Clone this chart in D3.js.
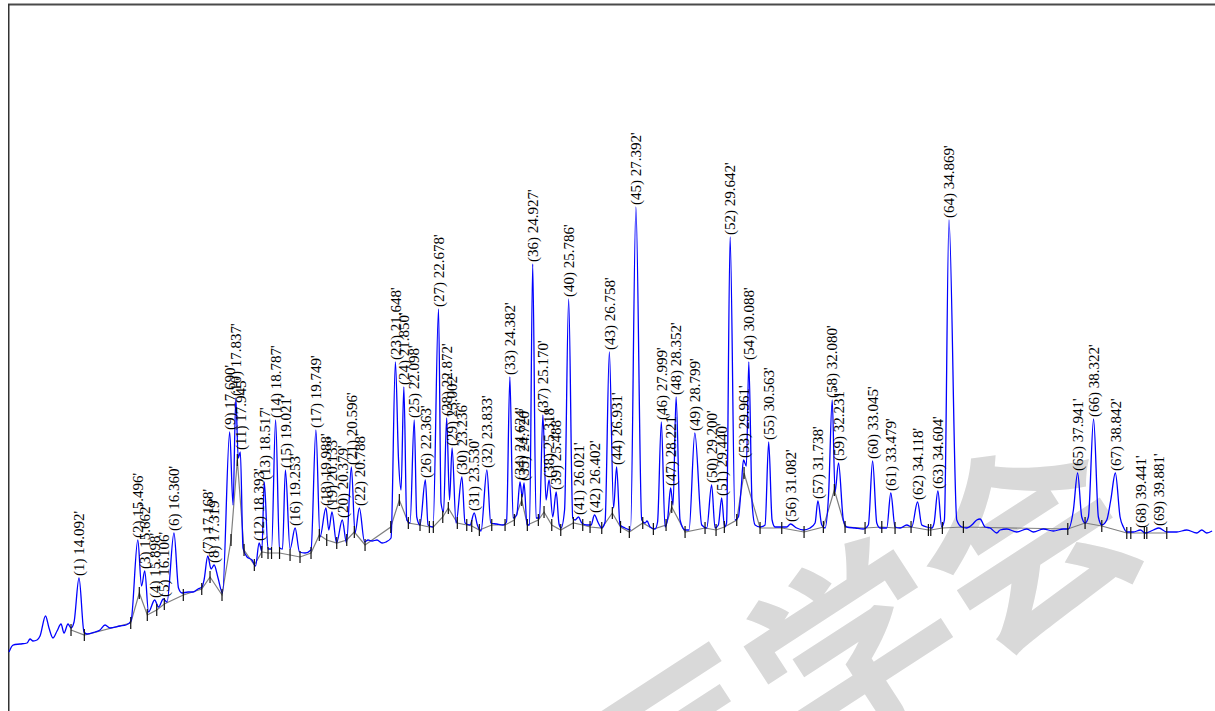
<!DOCTYPE html>
<html>
<head>
<meta charset="utf-8">
<script src="https://cdn.jsdelivr.net/npm/d3@7/dist/d3.min.js"></script>
<style>
  html, body { margin: 0; padding: 0; background: #fff; }
  svg { display: block; }
</style>
</head>
<body>
<svg id="chart" width="1215" height="711"></svg>
<script>
// Retention times (min) of the integrated peaks, in elution order
const retentionTimes = [
  14.092, 15.496, 15.662, 15.898, 16.106, 16.360, 17.168, 17.319, 17.690, 17.837,
  17.945, 18.393, 18.517, 18.787, 19.021, 19.253, 19.749, 19.988, 20.133, 20.379,
  20.596, 20.788, 21.648, 21.850, 22.098, 22.363, 22.678, 22.872, 23.002, 23.236,
  23.530, 23.833, 24.382, 24.624, 24.720, 24.927, 25.170, 25.318, 25.488, 25.786,
  26.021, 26.402, 26.758, 26.931, 27.392, 27.999, 28.221, 28.352, 28.799, 29.200,
  29.440, 29.642, 29.961, 30.088, 30.563, 31.082, 31.738, 32.080, 32.231, 33.045,
  33.479, 34.118, 34.604, 34.869, 37.941, 38.322, 38.842, 39.441, 39.881
];

// Detector signal at each peak apex (mV)
const peakHeights = [
  13.3, 17.1, 14.0, 11.1, 11.2, 17.8, 15.5, 14.6, 27.9, 31.3,
  25.9, 16.8, 22.9, 29.1, 24.1, 18.3, 28.1, 20.3, 19.9, 19.1,
  24.4, 20.3, 34.9, 32.4, 29.1, 23.1, 40.2, 29.3, 26.3, 23.4,
  19.8, 24.1, 33.4, 22.9, 22.8, 44.7, 29.6, 23.1, 21.9, 41.2,
  19.4, 19.6, 35.9, 24.4, 50.4, 28.9, 22.3, 31.4, 27.8, 22.6,
  21.3, 47.4, 25.1, 34.9, 26.9, 18.7, 21.0, 31.1, 24.8, 25.0,
  21.8, 20.9, 22.0, 49.1, 23.8, 29.2, 23.8, 18.1, 18.3
];

// Signal between the apexes: baseline, valleys and peak feet [time min, mV]
const baselineTrace = [
  [12.420, 5.9], [12.516, 6.6], [12.683, 6.7], [12.850, 6.8], [12.922, 7.2], [12.993, 7.0],
  [13.089, 7.1], [13.161, 7.5], [13.292, 9.5], [13.375, 8.3], [13.471, 7.3], [13.567, 8.0],
  [13.662, 8.7], [13.734, 7.8], [13.829, 8.7], [13.901, 8.3], [13.973, 8.9], [14.211, 7.9],
  [14.283, 7.7], [14.474, 7.9], [14.594, 8.1], [14.713, 8.6], [14.832, 8.3], [15.071, 8.5],
  [15.215, 8.6], [15.334, 9.0], [15.585, 12.5], [15.752, 9.9], [15.991, 10.4], [16.194, 10.9],
  [16.468, 12.3], [16.552, 11.8], [16.695, 11.9], [16.815, 11.9], [16.934, 12.2], [17.030, 12.4],
  [17.078, 13.1], [17.245, 14.2], [17.412, 13.3], [17.519, 11.8], [17.770, 20.6], [17.894, 25.3],
  [18.009, 16.3], [18.105, 15.4], [18.224, 15.1], [18.308, 14.5], [18.458, 16.0], [18.606, 16.2],
  [18.690, 16.2], [18.881, 16.3], [18.952, 16.2], [19.132, 16.2], [19.358, 15.9], [19.490, 15.8],
  [19.633, 16.1], [19.848, 17.4], [20.058, 18.1], [20.242, 16.8], [20.481, 16.8], [20.684, 17.8],
  [20.911, 16.9], [20.994, 17.1], [21.090, 17.0], [21.209, 17.1], [21.329, 16.8], [21.424, 16.9],
  [21.544, 17.3], [21.723, 25.1], [21.783, 22.1], [21.919, 19.1], [21.998, 18.8], [22.158, 19.4],
  [22.236, 18.6], [22.428, 18.6], [22.547, 18.4], [22.738, 20.8], [22.798, 19.9], [22.941, 21.1],
  [23.096, 18.8], [23.311, 18.8], [23.431, 18.6], [23.605, 18.6], [23.693, 18.0], [23.925, 18.8],
  [24.068, 18.7], [24.219, 18.6], [24.302, 18.9], [24.458, 19.3], [24.546, 19.6], [24.677, 21.4],
  [24.792, 18.6], [24.852, 18.6], [25.007, 19.3], [25.091, 19.3], [25.246, 21.1], [25.406, 19.4],
  [25.556, 18.7], [25.604, 18.3], [25.688, 20.1], [25.883, 19.3], [25.938, 19.1], [26.098, 18.8],
  [26.218, 18.6], [26.321, 18.6], [26.495, 18.8], [26.576, 18.3], [26.655, 18.9], [26.858, 20.3],
  [27.013, 18.6], [27.133, 18.3], [27.264, 18.1], [27.531, 19.1], [27.610, 18.8], [27.658, 19.0],
  [27.730, 18.4], [27.849, 18.2], [27.909, 18.9], [28.088, 18.4], [28.152, 19.3], [28.279, 20.6],
  [28.446, 19.1], [28.566, 18.1], [28.661, 18.1], [28.964, 18.6], [29.084, 18.3], [29.282, 18.3],
  [29.361, 18.6], [29.509, 18.4], [29.557, 18.8], [29.760, 19.1], [29.839, 19.4], [29.908, 22.4],
  [30.030, 24.5], [30.166, 20.8], [30.238, 18.6], [30.357, 18.4], [30.476, 18.6], [30.644, 19.1],
  [30.715, 18.4], [30.875, 18.4], [30.995, 18.4], [31.233, 18.3], [31.391, 18.1], [31.551, 18.3],
  [31.671, 18.8], [31.830, 18.6], [31.909, 18.3], [31.993, 21.6], [32.148, 21.9], [32.346, 19.1],
  [32.428, 18.4], [32.626, 18.3], [32.824, 18.2], [32.943, 18.6], [33.144, 18.8], [33.223, 18.3],
  [33.383, 18.3], [33.581, 18.4], [33.701, 18.3], [33.861, 18.6], [33.980, 18.4], [34.219, 18.6],
  [34.338, 18.4], [34.458, 18.3], [34.513, 18.8], [34.696, 18.4], [34.759, 19.1], [35.055, 19.1],
  [35.174, 18.4], [35.294, 18.3], [35.413, 18.6], [35.532, 19.1], [35.611, 19.2], [35.731, 18.4],
  [35.850, 18.3], [36.010, 17.8], [36.089, 18.1], [36.249, 18.2], [36.488, 17.9], [36.727, 18.2],
  [36.885, 17.9], [37.123, 18.2], [37.362, 18.0], [37.601, 18.2], [37.720, 18.2], [37.840, 20.1],
  [38.040, 19.4], [38.119, 18.8], [38.198, 19.4], [38.437, 19.4], [38.518, 18.6], [38.637, 19.1],
  [38.733, 21.1], [38.955, 19.4], [39.034, 18.4], [39.115, 17.9], [39.273, 17.9], [39.552, 17.8],
  [39.750, 18.1], [40.070, 17.9], [40.309, 17.9], [40.548, 18.1], [40.787, 17.8], [40.906, 18.1],
  [41.026, 17.8], [41.152, 18.0]
];

// Integration events: peak start / end marks and the drawn baseline [time min, mV]
const integrationMarks = [
  [13.901, 8.1], [14.219, 7.6], [15.327, 8.8], [15.532, 11.8], [15.723, 9.6], [15.948, 10.1],
  [16.129, 10.7], [16.583, 11.6], [17.023, 12.2], [17.221, 13.4], [17.507, 11.6], [17.722, 17.1],
  [17.873, 25.1], [18.033, 16.1], [18.279, 14.6], [18.458, 15.9], [18.606, 15.8], [18.690, 15.8],
  [18.881, 15.8], [19.132, 15.6], [19.370, 15.4], [19.633, 15.8], [19.831, 17.6], [20.008, 17.1],
  [20.247, 16.8], [20.486, 17.1], [20.667, 17.9], [20.923, 16.6], [21.537, 18.4], [21.742, 21.1],
  [21.957, 18.8], [22.236, 18.6], [22.459, 18.4], [22.554, 18.4], [22.779, 19.4], [22.912, 20.3],
  [23.127, 18.8], [23.352, 18.6], [23.471, 18.5], [23.653, 18.1], [23.949, 18.6], [24.267, 18.6],
  [24.489, 19.1], [24.665, 21.1], [24.799, 18.6], [25.062, 19.1], [25.198, 19.9], [25.382, 18.6],
  [25.597, 18.1], [25.898, 18.8], [26.122, 18.6], [26.297, 18.4], [26.576, 18.3], [26.829, 19.8],
  [27.025, 18.4], [27.235, 17.9], [27.555, 18.8], [27.809, 18.2], [28.112, 18.6], [28.248, 20.4],
  [28.566, 17.9], [29.043, 18.3], [29.306, 18.1], [29.504, 18.4], [29.800, 19.1], [29.975, 23.8],
  [30.357, 18.3], [30.875, 18.3], [31.408, 17.9], [31.869, 18.4], [32.131, 22.1], [32.387, 18.4],
  [32.865, 18.3], [33.264, 18.4], [33.581, 18.3], [33.963, 18.4], [34.377, 18.1], [34.434, 18.1],
  [34.711, 18.3], [35.213, 18.4], [37.706, 18.2], [38.119, 18.8], [38.518, 18.5], [39.115, 17.8],
  [39.211, 17.8], [39.535, 17.8], [39.593, 17.8], [40.070, 17.8]
];

const W = 1215, H = 711;
const svg = d3.select("#chart");

const x = d3.scaleLinear().domain([12.396, 41.222]).range([8, 1215]);
const y = d3.scaleLinear().domain([0, 70.7]).range([711, 4]);

// faint publisher stamp behind the trace
svg.append("text")
  .attr("transform", "translate(855,655) rotate(-33)")
  .attr("text-anchor", "middle")
  .attr("dy", "0.36em")
  .attr("font-family", "'Noto Sans CJK SC', sans-serif")
  .attr("font-size", 205)
  .attr("font-weight", 700)
  .attr("fill", "#d9d9d9")
  .text("医学会");

// frame (top and left edges)
svg.append("line").attr("x1", 8).attr("x2", W).attr("y1", 4.5).attr("y2", 4.5)
  .attr("stroke", "#4a4a4a").attr("stroke-width", 2);
svg.append("line").attr("x1", 8.75).attr("x2", 8.75).attr("y1", 4).attr("y2", H)
  .attr("stroke", "#333").attr("stroke-width", 1.5);

// integration baseline
const straight = d3.line().x(d => x(d[0])).y(d => y(d[1]));
svg.append("path")
  .attr("d", straight(integrationMarks))
  .attr("fill", "none")
  .attr("stroke", "#7f7f7f")
  .attr("stroke-width", 1.2);

// chromatogram trace: apexes merged with the in-between signal
const peaks = retentionTimes.map((t, i) => ({ no: i + 1, t, h: peakHeights[i] }));
const trace = baselineTrace.concat(peaks.map(p => [p.t, p.h]))
  .sort((a, b) => a[0] - b[0]);

const traceLine = d3.line()
  .x(d => x(d[0]))
  .y(d => y(d[1]))
  .curve(d3.curveMonotoneX);

svg.append("path")
  .attr("d", traceLine(trace))
  .attr("fill", "none")
  .attr("stroke", "#0000ff")
  .attr("stroke-width", 1.3)
  .attr("stroke-linejoin", "round");

// peak start / end marks
svg.append("g").selectAll("line")
  .data(integrationMarks)
  .join("line")
  .attr("x1", d => x(d[0])).attr("x2", d => x(d[0]))
  .attr("y1", d => y(d[1]) - 6).attr("y2", d => y(d[1]) + 6)
  .attr("stroke", "#111")
  .attr("stroke-width", 1.2);

// peak labels: "(n) tR'"
svg.append("g").selectAll("text")
  .data(peaks)
  .join("text")
  .attr("transform", d => `translate(${x(d.t)},${y(d.h) - 2}) rotate(-90)`)
  .attr("dy", "0.35em")
  .attr("text-anchor", "start")
  .attr("font-family", "'Liberation Serif', 'Times New Roman', serif")
  .attr("font-size", 15)
  .attr("fill", "#000")
  .text(d => `(${d.no}) ${d.t.toFixed(3)}'`);
</script>
</body>
</html>
